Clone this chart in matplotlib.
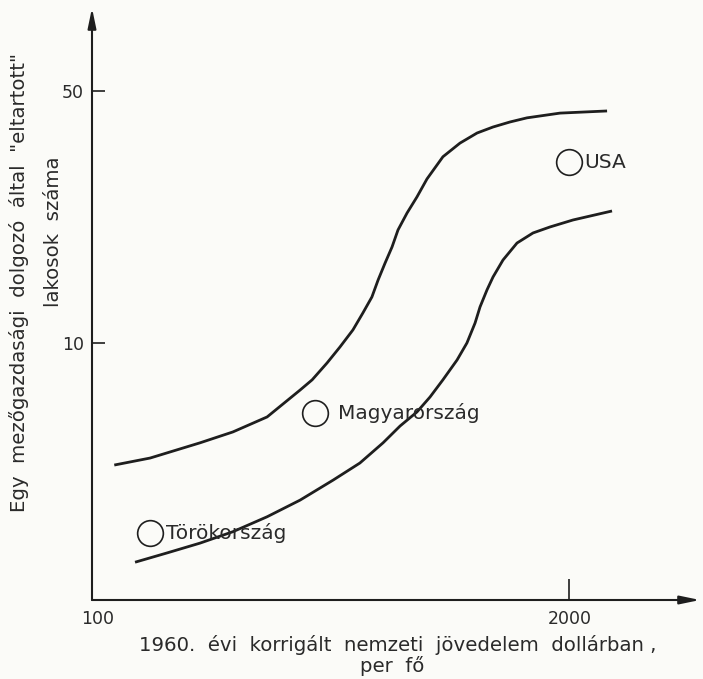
import matplotlib
matplotlib.use("Agg")
import matplotlib.pyplot as plt
from matplotlib.transforms import ScaledTranslation

# ---- data (log-log axes) ----
upper_x = [115, 144, 197, 242, 300, 369, 398, 437, 474, 514, 547, 579, 602, 629,
           657, 682, 722, 768, 818, 904, 1006, 1120, 1238, 1377, 1532, 1885, 2532]
upper_y = [4.58, 4.79, 5.28, 5.66, 6.23, 7.40, 7.90, 8.80, 9.75, 10.87, 12.11,
           13.42, 14.96, 16.68, 18.48, 20.6, 22.97, 25.44, 28.55, 32.9, 35.9,
           38.3, 39.8, 41.1, 42.2, 43.5, 44.1]

lower_x = [131, 160, 197, 242, 300, 369, 454, 537, 621, 691, 768, 834, 904, 988,
           1051, 1106, 1141, 1192, 1238, 1318, 1439, 1591, 1770, 2045, 2612]
lower_y = [2.46, 2.61, 2.78, 2.99, 3.29, 3.66, 4.16, 4.64, 5.28, 5.88, 6.43, 7.08,
           7.90, 8.97, 10.0, 11.36, 12.59, 14.04, 15.25, 17.0, 18.95, 20.21, 21.0,
           21.96, 23.26]

countries = ["Törökország", "Magyarország", "USA"]
country_x = [144, 405, 2000]
country_y = [2.97, 6.39, 31.8]
label_offsets_px = [16, 23, 15]

x_ticks = [100, 2000]
x_ticklabels = ["100", "2000"]
y_ticks = [10, 50]
y_ticklabels = ["10", "50"]

xlabel_lines = ["1960.  évi  korrigált  nemzeti  jövedelem  dollárban ,", "per  fő"]
ylabel_lines = ['Egy  mezőgazdasági  dolgozó  által  "eltartott"', "lakosok  száma"]

# ---- figure ----
W, H, DPI = 703, 679, 100
INK = "#1e1e1e"
TXT = "#2a2a2a"
BG = "#fbfbf8"
fig = plt.figure(figsize=(W / DPI, H / DPI), dpi=DPI, facecolor=BG)
ax = fig.add_axes([92 / W, 1 - 600 / H, 608 / W, 592 / H])
ax.set_facecolor(BG)
ax.set_xscale("log")
ax.set_yscale("log")
ax.set_xlim(100, 4536)
ax.set_ylim(1.932, 85.2)

for s in ax.spines.values():
    s.set_visible(False)

# axes drawn as arrows
arrow = dict(arrowstyle="-|>,head_length=1.2,head_width=0.25", lw=1.5, color=INK,
             shrinkA=0, shrinkB=0)
ax.annotate("", xy=(1.0, 0), xytext=(0, 0), xycoords="axes fraction",
            textcoords="axes fraction", arrowprops=arrow, annotation_clip=False)
ax.annotate("", xy=(0, 1.0), xytext=(0, 0), xycoords="axes fraction",
            textcoords="axes fraction", arrowprops=arrow, annotation_clip=False)

for xs, ys in ((upper_x, upper_y), (lower_x, lower_y)):
    ax.plot(xs, ys, color=INK, lw=2.0, solid_capstyle="butt", solid_joinstyle="round")

ax.plot(country_x, country_y, "o", ms=18.5, mfc="none", mec=INK, mew=1.2)
for name, cx, cy, off in zip(countries, country_x, country_y, label_offsets_px):
    ax.annotate(name, xy=(cx, cy), xytext=(off * 72 / DPI, 0), textcoords="offset points",
                ha="left", va="center", fontsize=14.5, color=TXT)

# ticks
ax.minorticks_off()
ax.set_xticks(x_ticks)
ax.set_xticklabels(x_ticklabels)
ax.set_yticks(y_ticks)
ax.set_yticklabels(y_ticklabels)
ax.tick_params(axis="both", which="minor", length=0)
ax.tick_params(axis="y", direction="in", length=9, width=1.2, color=INK, pad=6,
               labelsize=12.5, labelcolor=TXT)
ax.tick_params(axis="x", direction="in", length=15, width=1.2, color=INK, pad=7,
               labelsize=12.5, labelcolor=TXT)
first = ax.get_xticklabels()[0]
first.set_transform(first.get_transform() + ScaledTranslation(6 / DPI, 0, fig.dpi_scale_trans))

# axis titles
fig.text(398 / W, 1 - 645 / H, xlabel_lines[0], ha="center", va="center",
         fontsize=14.2, color=TXT)
fig.text(392 / W, 1 - 666 / H, xlabel_lines[1], ha="center", va="center",
         fontsize=14.2, color=TXT)
fig.text(19 / W, 1 - 283 / H, ylabel_lines[0], ha="center", va="center",
         rotation=90, fontsize=14.2, color=TXT)
fig.text(54 / W, 1 - 232 / H, ylabel_lines[1], ha="center", va="center",
         rotation=90, fontsize=14.2, color=TXT)

fig.savefig("out.png", dpi=DPI, facecolor=BG)
